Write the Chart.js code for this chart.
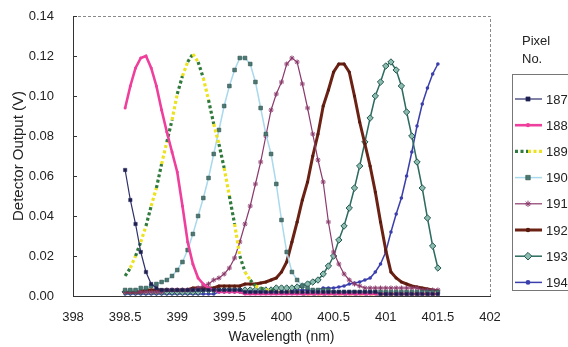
<!DOCTYPE html>
<html>
<head>
<meta charset="utf-8">
<script src="https://cdn.jsdelivr.net/npm/chart.js@4/dist/chart.umd.min.js"></script>
<style>
  html, body { margin: 0; padding: 0; background: #fff; }
  #wrap { width: 568px; height: 347px; }
</style>
</head>
<body>
<div id="wrap"><canvas id="myChart" width="568" height="347"></canvas></div>
<script>
// wavelength of every sample (nm)
let wavelength = [
  398.5, 398.55, 398.6, 398.65, 398.7, 398.75, 398.8, 398.85, 398.9, 398.95,
  399.0, 399.05, 399.1, 399.15, 399.2, 399.25, 399.3, 399.35, 399.4, 399.45,
  399.5, 399.55, 399.6, 399.65, 399.7, 399.75, 399.8, 399.85, 399.9, 399.95,
  400.0, 400.05, 400.1, 400.15, 400.2, 400.25, 400.3, 400.35, 400.4, 400.45,
  400.5, 400.55, 400.6, 400.65, 400.7, 400.75, 400.8, 400.85, 400.9, 400.95,
  401.0, 401.05, 401.1, 401.15, 401.2, 401.25, 401.3, 401.35, 401.4, 401.45, 401.5
];

// detector output (V) for each pixel
let pixel187 = [
  0.063, 0.048, 0.036, 0.022, 0.012, 0.006, 0.004, 0.003, 0.003, 0.003,
  0.003, 0.003, 0.003, 0.003, 0.003, 0.003, 0.003, 0.003, 0.003, 0.003,
  0.003, 0.003, 0.003, 0.002, 0.002, 0.002, 0.002, 0.002, 0.002, 0.002,
  0.002, 0.002, 0.002, 0.002, 0.002, 0.002, 0.002, 0.002, 0.002, 0.002,
  0.002, 0.002, 0.002, 0.002, 0.002, 0.002, 0.002, 0.002, 0.002, 0.001,
  0.001, 0.001, 0.001, 0.001, 0.001, 0.001, 0.001, 0.001, 0.001, 0.001, 0.001
];
let pixel188 = [
  0.094, 0.105, 0.114, 0.119, 0.120, 0.114, 0.105, 0.093, 0.082, 0.072,
  0.062, 0.045, 0.027, 0.016, 0.009, 0.006, 0.004, 0.003, 0.002, 0.002,
  0.002, 0.002, 0.002, 0.001, 0.001, 0.001, 0.001, 0.001, 0.001, 0.001,
  0.001, 0.001, 0.001, 0.001, 0.001, 0.001, 0.001, 0.001, 0.001, 0.001,
  0.001, 0.001, 0.001, 0.001, 0.001, 0.001, 0.001, 0.001, 0.001, 0.001,
  0.001, 0.001, 0.001, 0.001, 0.001, 0.001, 0.001, 0.001, 0.001, 0.001, 0.001
];
let pixel189 = [
  0.010, 0.014, 0.020, 0.027, 0.035, 0.045, 0.054, 0.066, 0.077, 0.088,
  0.101, 0.110, 0.117, 0.121, 0.117, 0.109, 0.098, 0.086, 0.076, 0.064,
  0.050, 0.036, 0.020, 0.012, 0.008, 0.005, 0.004, 0.003, 0.003, 0.002,
  0.002, 0.002, 0.002, 0.002, 0.001, 0.001, 0.001, 0.001, 0.001, 0.001,
  0.001, 0.001, 0.001, 0.001, 0.001, 0.001, 0.001, 0.001, 0.001, 0.001,
  0.001, 0.001, 0.001, 0.001, 0.001, 0.001, 0.001, 0.001, 0.001, 0.001, 0.001
];
let pixel190 = [
  0.003, 0.003, 0.003, 0.004, 0.004, 0.005, 0.006, 0.007, 0.008, 0.010,
  0.013, 0.017, 0.023, 0.031, 0.040, 0.049, 0.059, 0.071, 0.083, 0.095,
  0.105, 0.113, 0.119, 0.119, 0.116, 0.107, 0.094, 0.081, 0.071, 0.056,
  0.038, 0.022, 0.012, 0.008, 0.005, 0.004, 0.003, 0.003, 0.003, 0.003,
  0.002, 0.002, 0.002, 0.002, 0.002, 0.002, 0.002, 0.002, 0.002, 0.002,
  0.002, 0.002, 0.002, 0.002, 0.002, 0.002, 0.002, 0.002, 0.002, 0.002, 0.002
];
let pixel191 = [
  0.002, 0.002, 0.002, 0.002, 0.002, 0.002, 0.002, 0.002, 0.003, 0.003,
  0.003, 0.003, 0.003, 0.003, 0.004, 0.005, 0.006, 0.008, 0.009, 0.011,
  0.014, 0.019, 0.027, 0.036, 0.045, 0.056, 0.067, 0.080, 0.093, 0.101,
  0.107, 0.116, 0.119, 0.117, 0.106, 0.094, 0.081, 0.068, 0.057, 0.037,
  0.022, 0.016, 0.011, 0.008, 0.006, 0.005, 0.004, 0.004, 0.004, 0.004,
  0.004, 0.004, 0.004, 0.004, 0.004, 0.004, 0.004, 0.003, 0.003, 0.003, 0.003
];
let pixel192 = [
  0.002, 0.002, 0.002, 0.002, 0.003, 0.003, 0.003, 0.003, 0.003, 0.003,
  0.003, 0.003, 0.003, 0.004, 0.004, 0.004, 0.004, 0.004, 0.005, 0.005,
  0.005, 0.005, 0.005, 0.006, 0.006, 0.006, 0.0065, 0.007, 0.008, 0.009,
  0.012, 0.017, 0.027, 0.037, 0.048, 0.057, 0.070, 0.081, 0.095, 0.103,
  0.112, 0.116, 0.116, 0.112, 0.100, 0.087, 0.076, 0.065, 0.052, 0.037,
  0.023, 0.012, 0.009, 0.007, 0.006, 0.005, 0.0045, 0.004, 0.0035, 0.003, 0.0025
];
let pixel193 = [
  0.002, 0.002, 0.002, 0.002, 0.002, 0.002, 0.002, 0.002, 0.002, 0.002,
  0.002, 0.002, 0.002, 0.002, 0.002, 0.003, 0.003, 0.003, 0.003, 0.003,
  0.003, 0.003, 0.003, 0.003, 0.003, 0.003, 0.003, 0.003, 0.003, 0.004,
  0.004, 0.004, 0.004, 0.0045, 0.005, 0.006, 0.007, 0.008, 0.011, 0.015,
  0.020, 0.028, 0.035, 0.044, 0.054, 0.065, 0.077, 0.089, 0.100, 0.107,
  0.115, 0.117, 0.113, 0.105, 0.092, 0.080, 0.067, 0.054, 0.039, 0.025, 0.014
];
let pixel194 = [
  0.001, 0.001, 0.001, 0.001, 0.001, 0.001, 0.001, 0.001, 0.001, 0.001,
  0.001, 0.001, 0.001, 0.001, 0.001, 0.001, 0.001, 0.001, 0.002, 0.002,
  0.002, 0.002, 0.002, 0.002, 0.002, 0.002, 0.002, 0.002, 0.002, 0.002,
  0.002, 0.002, 0.003, 0.003, 0.003, 0.003, 0.003, 0.003, 0.004, 0.004,
  0.004, 0.0045, 0.005, 0.006, 0.0065, 0.007, 0.008, 0.009, 0.012, 0.016,
  0.022, 0.032, 0.041, 0.049, 0.060, 0.072, 0.085, 0.096, 0.104, 0.111, 0.116
];

let pixel_labels = ['187', '188', '189', '190', '191', '192', '193', '194'];
let x_ticks = [398, 398.5, 399, 399.5, 400, 400.5, 401, 401.5, 402];
let y_ticks = [0, 0.02, 0.04, 0.06, 0.08, 0.10, 0.12, 0.14];

const YELLOW = '#ece21e';
const GREEN = '#2f7a3c';

function toPoints(values) {
    return values.map((v, i) => ({ x: wavelength[i], y: v }));
}

const datasets = [
    { label: pixel_labels[0], data: toPoints(pixel187), borderColor: '#2d2f6a', backgroundColor: '#1d1f4a',
      borderWidth: 1.2, pointStyle: 'rect', pointRadius: 2.4, pointBorderWidth: 0.5 },
    { label: pixel_labels[1], data: toPoints(pixel188), borderColor: '#ef3f9d', backgroundColor: '#ef3f9d',
      borderWidth: 2.6, pointStyle: 'circle', pointRadius: 1.5, pointBorderWidth: 0 },
    { label: pixel_labels[2], data: toPoints(pixel189), borderColor: YELLOW, backgroundColor: GREEN,
      borderWidth: 3.2, borderDash: [3, 2.5], pointRadius: 0,
      segment: { borderColor: c => (c.p0DataIndex % 2 ? YELLOW : GREEN) } },
    { label: pixel_labels[3], data: toPoints(pixel190), borderColor: '#a9d9ec', backgroundColor: '#4a7a72',
      borderWidth: 1.5, pointStyle: 'rect', pointRadius: 2.6, pointBorderColor: '#2f4f4a', pointBorderWidth: 0.6 },
    { label: pixel_labels[4], data: toPoints(pixel191), borderColor: '#8c3a6c', backgroundColor: '#8c3a6c',
      borderWidth: 1.2, pointStyle: 'star', pointRadius: 2.5, pointBorderWidth: 1 },
    { label: pixel_labels[5], data: toPoints(pixel192), borderColor: '#6b2214', backgroundColor: '#5a1a10',
      borderWidth: 3, pointStyle: 'circle', pointRadius: 1.6, pointBorderWidth: 0 },
    { label: pixel_labels[6], data: toPoints(pixel193), borderColor: '#2c6b60', backgroundColor: '#8cbcb0',
      borderWidth: 1.5, pointStyle: 'rectRot', pointRadius: 3.2, pointBorderColor: '#24584f', pointBorderWidth: 1 },
    { label: pixel_labels[7], data: toPoints(pixel194), borderColor: '#3b3fac', backgroundColor: '#3b3fac',
      borderWidth: 1.5, pointStyle: 'circle', pointRadius: 1.8, pointBorderWidth: 0 }
];

// dashed top/right frame and small inner ticks on the value axis
const framePlugin = {
    id: 'frame',
    beforeDatasetsDraw(chart) {
        const { ctx, chartArea: a, scales: { y } } = chart;
        ctx.save();
        ctx.lineWidth = 1;
        ctx.strokeStyle = '#8a8a8a';
        ctx.setLineDash([3, 2]);
        ctx.beginPath();
        ctx.moveTo(a.left, a.top + 0.5);
        ctx.lineTo(a.right + 0.5, a.top + 0.5);
        ctx.lineTo(a.right + 0.5, a.bottom);
        ctx.stroke();
        ctx.setLineDash([]);
        ctx.strokeStyle = '#333';
        ctx.beginPath();
        y_ticks.forEach(t => {
            const py = Math.round(y.getPixelForValue(t)) + 0.5;
            ctx.moveTo(a.left, py);
            ctx.lineTo(a.left + 4, py);
        });
        ctx.stroke();
        ctx.restore();
    }
};

// boxed legend on the right, line sample plus marker like the original
const legendPlugin = {
    id: 'pixelLegend',
    afterDraw(chart) {
        const ctx = chart.ctx;
        ctx.save();
        ctx.font = '13px "Liberation Sans", Arial, sans-serif';
        ctx.fillStyle = '#222';
        ctx.textBaseline = 'middle';
        ctx.fillText('Pixel', 522, 41);
        ctx.fillText('No.', 522, 59);
        ctx.strokeStyle = '#777';
        ctx.lineWidth = 1;
        ctx.strokeRect(512.5, 74.5, 70, 216);
        chart.data.datasets.forEach((ds, i) => {
            const yy = 99 + i * 26.2;
            ctx.save();
            ctx.lineWidth = ds.borderWidth;
            ctx.setLineDash(ds.borderDash || []);
            if (ds.segment) {
                ctx.strokeStyle = GREEN;
                ctx.beginPath(); ctx.moveTo(515, yy); ctx.lineTo(528, yy); ctx.stroke();
                ctx.strokeStyle = YELLOW;
                ctx.beginPath(); ctx.moveTo(528, yy); ctx.lineTo(542, yy); ctx.stroke();
            } else {
                ctx.strokeStyle = ds.borderColor;
                ctx.beginPath(); ctx.moveTo(515, yy); ctx.lineTo(542, yy); ctx.stroke();
            }
            ctx.setLineDash([]);
            if (ds.pointRadius > 0) {
                ctx.fillStyle = ds.backgroundColor;
                ctx.strokeStyle = ds.pointBorderColor || ds.borderColor;
                ctx.lineWidth = ds.pointBorderWidth;
                Chart.helpers.drawPoint(ctx, {
                    pointStyle: ds.pointStyle, radius: ds.pointRadius + 0.6,
                    rotation: 0, borderWidth: ds.pointBorderWidth
                }, 528, yy);
            }
            ctx.restore();
            ctx.fillStyle = '#222';
            ctx.fillText(ds.label, 546, yy + 1);
        });
        ctx.restore();
    }
};

Chart.defaults.font.family = '"Liberation Sans", Arial, sans-serif';
Chart.defaults.color = '#222';

const ctx = document.getElementById('myChart').getContext('2d');
const myChart = new Chart(ctx, {
    type: 'line',
    data: { datasets: datasets },
    options: {
        responsive: false,
        animation: false,
        layout: { padding: { left: 0, right: 78, top: 16, bottom: 0 } },
        elements: { line: { tension: 0 } },
        plugins: { legend: { display: false }, tooltip: { enabled: false } },
        scales: {
            x: {
                type: 'linear',
                min: 398, max: 402,
                afterFit: s => { s.height = 51; },
                afterBuildTicks: s => { s.ticks = x_ticks.map(v => ({ value: v })); },
                grid: { display: false, drawTicks: false },
                border: { display: true, color: '#333', width: 1 },
                ticks: { padding: 14, font: { size: 13 }, callback: v => String(v) },
                title: { display: true, text: 'Wavelength (nm)', font: { size: 14 }, padding: { top: 0, bottom: 1 } }
            },
            y: {
                min: 0, max: 0.14,
                // the tick padding would otherwise push the plot top down
                afterFit: s => { s.width = 73; s.paddingTop = 0; s.paddingBottom = 0; },
                afterBuildTicks: s => { s.ticks = y_ticks.map(v => ({ value: v })); },
                grid: { display: false, drawTicks: false },
                border: { display: true, color: '#333', width: 1 },
                ticks: { padding: 19, font: { size: 13 }, callback: v => Number(v).toFixed(2) },
                title: { display: true, text: 'Detector Output (V)', font: { size: 15 }, padding: { top: 10, bottom: 0 } }
            }
        }
    },
    plugins: [framePlugin, legendPlugin]
});
</script>
</body>
</html>
